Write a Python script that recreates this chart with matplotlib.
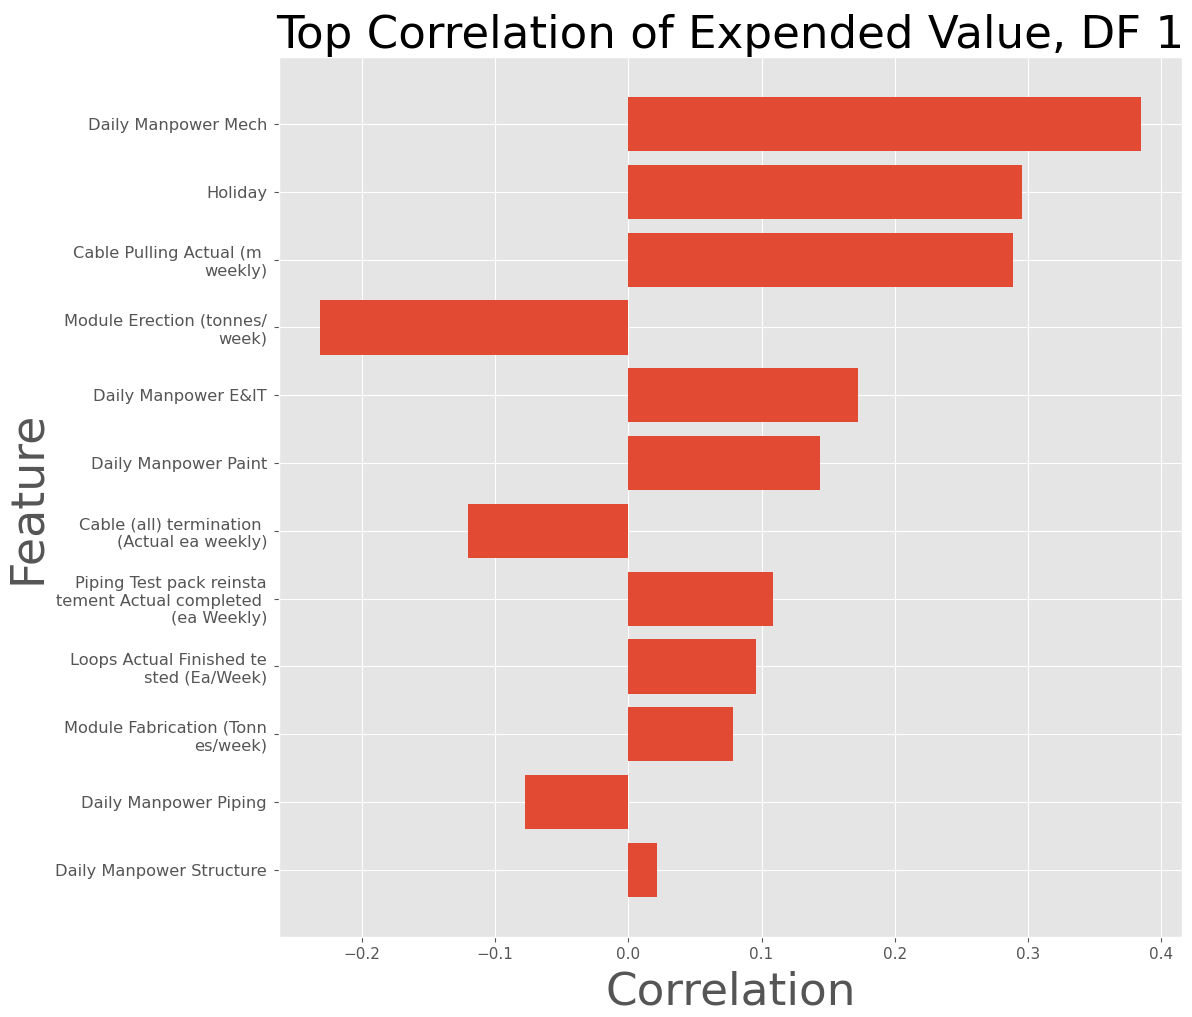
import matplotlib
matplotlib.use("Agg")
import matplotlib.pyplot as plt
import numpy as np

plt.style.use("ggplot")

# Признаки (сверху вниз) и их корреляция
features = [
    "Daily Manpower Mech",
    "Holiday",
    "Cable Pulling Actual (m weekly)",
    "Module Erection (tonnes/week)",
    "Daily Manpower E&IT",
    "Daily Manpower Paint",
    "Cable (all) termination (Actual ea weekly)",
    "Piping Test pack reinstatement Actual completed (ea Weekly)",
    "Loops Actual Finished tested (Ea/Week)",
    "Module Fabrication (Tonnes/week)",
    "Daily Manpower Piping",
    "Daily Manpower Structure",
]
correlation = [0.3848, 0.2955, 0.2887, -0.2315, 0.1724, 0.1439,
               -0.1206, 0.1085, 0.0958, 0.0785, -0.0778, 0.0218]


def wrap(s, n=24):
    # режем подпись на куски по n символов
    return "\n".join(s[i:i + n] for i in range(0, len(s), n))


labels = [wrap(f) for f in features]
y = np.arange(len(features))

fig, ax = plt.subplots(figsize=(11.92, 10.17), dpi=100)
fig.subplots_adjust(left=0.234, right=0.9916, top=0.944, bottom=0.0787)

ax.barh(y, correlation, height=0.8)
ax.set_yticks(y)
ax.set_yticklabels(labels, fontsize=11.7)
ax.invert_yaxis()
ax.tick_params(axis="x", labelsize=11)
ax.tick_params(axis="y", pad=5)

ax.set_title("Top Correlation of Expended Value, DF 1", fontsize=32.5)
ax.set_xlabel("Correlation", fontsize=32.7, labelpad=6)
ax.set_ylabel("Feature", fontsize=33)

fig.savefig("out.png", dpi=100)
